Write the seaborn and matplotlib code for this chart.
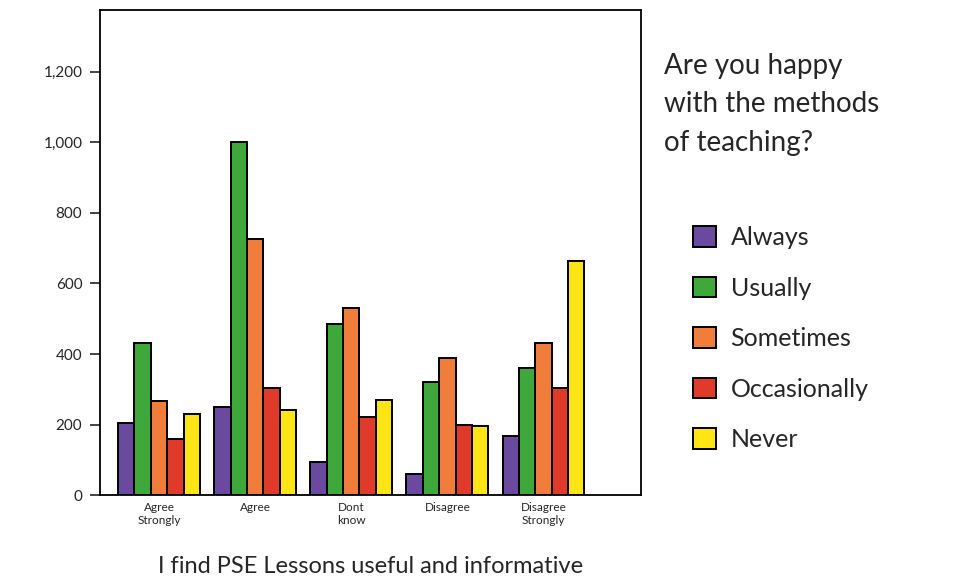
import pandas as pd
import matplotlib
matplotlib.use("Agg")
import matplotlib.pyplot as plt
import seaborn as sns
from matplotlib.ticker import FuncFormatter

responses = ["Agree\nStrongly", "Agree", "Dont\nknow", "Disagree", "Disagree\nStrongly"]
methods = ["Always", "Usually", "Sometimes", "Occasionally", "Never"]

always = [205, 250, 95, 60, 167]
usually = [430, 1000, 485, 322, 360]
sometimes = [268, 725, 529, 389, 432]
occasionally = [160, 305, 222, 200, 305]
never = [230, 240, 270, 197, 665]

colors = ["#6a4a9e", "#3fa83a", "#f07d3a", "#e03a2a", "#ffe514"]

if __name__ == "__main__":
    rows = []
    for name, vals in zip(methods, [always, usually, sometimes, occasionally, never]):
        for r, v in zip(responses, vals):
            rows.append({"response": r, "method": name, "count": v})
    df = pd.DataFrame(rows)

    sns.set_style("white")
    plt.rcParams['font.family'] = ['Lato', 'DejaVu Sans']

    fig = plt.figure(figsize=(9.56, 5.86), dpi=100)
    ax = fig.add_axes([0.105, 0.155, 0.566, 0.828])

    sns.barplot(data=df, x="response", y="count", hue="method",
                order=responses, hue_order=methods, palette=colors,
                edgecolor="black", linewidth=1.4, width=0.85, gap=0,
                saturation=1, errorbar=None, ax=ax)

    ax.set_xlim(-0.61, 5.02)
    ax.set_ylim(0, 1375)
    ax.set_yticks([0, 200, 400, 600, 800, 1000, 1200])
    ax.yaxis.set_major_formatter(FuncFormatter(lambda v, p: f"{int(v):,}"))
    ax.tick_params(axis="y", direction="out", length=7, width=1.2,
                   labelsize=11, left=True, pad=6)
    ax.tick_params(axis="x", length=0, labelsize=8.5, pad=5)
    for s in ax.spines.values():
        s.set_color("black")
        s.set_linewidth(1.3)
    ax.set_xlabel("I find PSE Lessons useful and informative", fontsize=17, labelpad=22)
    ax.set_ylabel("")

    handles, labels = ax.get_legend_handles_labels()
    ax.legend(handles, labels, loc="upper left", bbox_to_anchor=(1.077, 0.575),
              frameon=False, fontsize=18, handlelength=0.9, handleheight=0.9,
              labelspacing=1.1, handletextpad=0.6, borderaxespad=0)

    fig.text(0.695, 0.91, "Are you happy\nwith the methods\nof teaching?",
             fontsize=20, va="top", ha="left", linespacing=1.6)

    plt.savefig("out.png", dpi=100)
    plt.close()
